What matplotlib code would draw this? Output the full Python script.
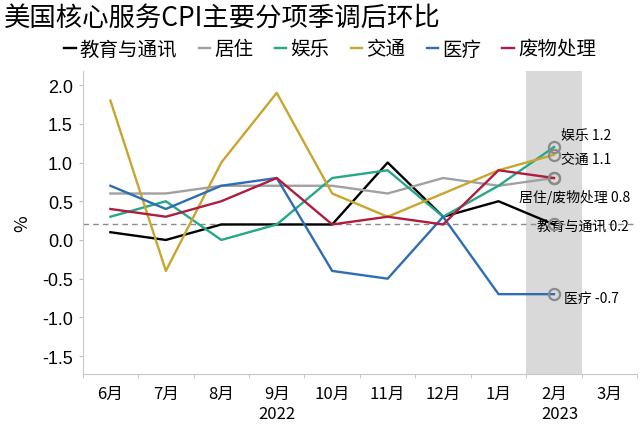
import numpy as np
import matplotlib.pyplot as plt
from matplotlib.transforms import blended_transform_factory

plt.rcParams['font.family'] = ['Noto Sans CJK SC', 'DejaVu Sans']
plt.rcParams['axes.unicode_minus'] = False

months = ['6月', '7月', '8月', '9月', '10月', '11月', '12月', '1月', '2月', '3月']
years = ['2022', '2023']

# 2022-06 .. 2023-02, month-on-month %, seasonally adjusted
edu = [0.1, 0.0, 0.2, 0.2, 0.2, 1.0, 0.3, 0.5, 0.2]
housing = [0.6, 0.6, 0.7, 0.7, 0.7, 0.6, 0.8, 0.7, 0.8]
recreation = [0.3, 0.5, 0.0, 0.2, 0.8, 0.9, 0.3, 0.7, 1.2]
transport = [1.8, -0.4, 1.0, 1.9, 0.6, 0.3, 0.6, 0.9, 1.1]
medical = [0.7, 0.4, 0.7, 0.8, -0.4, -0.5, 0.3, -0.7, -0.7]
waste = [0.4, 0.3, 0.5, 0.8, 0.2, 0.3, 0.2, 0.9, 0.8]

names = ['教育与通讯', '居住', '娱乐', '交通', '医疗', '废物处理']
series = [edu, housing, recreation, transport, medical, waste]
colors = ['#000000', '#a0a0a0', '#25a888', '#c9a52d', '#2e6db4', '#b01c3e']

ref_line = 0.2

fig = plt.figure(figsize=(6.41, 4.27), dpi=100)
ax = fig.add_axes([0.129, 0.122, 0.865, 0.709])

x = np.arange(len(months))

# highlight latest month
ax.axvspan(7.5, 8.5, color='#d9d9d9', zorder=0, lw=0)
ax.axhline(ref_line, color='#8c8c8c', ls=(0, (4, 3)), lw=1, zorder=1)

for vals, name, c in zip(series, names, colors):
    ax.plot(x[:len(vals)], vals, color=c, lw=1.7, label=name, zorder=3)

# markers + labels on last point
last = len(edu) - 1
for vals in series:
    ax.plot(last, vals[-1], 'o', ms=8, mfc='none', mec='#8a8a8a', mew=1.6, zorder=4)

fs = 10
ax.annotate(f'娱乐 {recreation[-1]:.1f}', (last, recreation[-1]), xytext=(5, 9),
            textcoords='offset points', fontsize=fs, va='center', ha='left')
ax.annotate(f'交通 {transport[-1]:.1f}', (last, transport[-1]), xytext=(5, -3),
            textcoords='offset points', fontsize=fs, va='center', ha='left')
ax.annotate(f'居住/废物处理 {housing[-1]:.1f}', (last, housing[-1]), xytext=(55, -13),
            textcoords='offset points', fontsize=fs, va='center', ha='right')
ax.annotate(f'教育与通讯 {edu[-1]:.1f}', (last, edu[-1]), xytext=(54, -1),
            textcoords='offset points', fontsize=fs, va='center', ha='right')
ax.annotate(f'医疗 {medical[-1]:.1f}', (last, medical[-1]), xytext=(7, -3),
            textcoords='offset points', fontsize=fs, va='center', ha='left')

ax.set_xlim(-0.5, len(months) - 0.5)
ax.set_ylim(-1.73, 2.18)
yt = np.arange(-1.5, 2.01, 0.5)
ax.set_yticks(yt)
ax.set_yticklabels([f'{v:.1f}' for v in yt], fontfamily='Liberation Sans', fontsize=13)
ax.set_xticks(x)
ax.set_xticklabels(months, fontsize=12)
ax.set_xticks(np.arange(-0.5, len(months), 1), minor=True)
ax.tick_params(axis='x', which='major', length=0, pad=8)
ax.tick_params(axis='x', which='minor', length=3, color='#bfbfbf')
ax.tick_params(axis='y', length=3, color='#bfbfbf', pad=4)

for s in ['top', 'right']:
    ax.spines[s].set_visible(False)
for s in ['left', 'bottom']:
    ax.spines[s].set_color('#c8c8c8')

tr = blended_transform_factory(ax.transData, ax.transAxes)
ax.text(3.0, -0.103, years[0], transform=tr, ha='center', va='top', fontsize=12)
ax.text(8.1, -0.103, years[1], transform=tr, ha='center', va='top', fontsize=12)

ax.set_ylabel('%', fontsize=13, labelpad=8)

fig.text(0.006, 0.955, '美国核心服务CPI主要分项季调后环比', fontsize=19, va='center', ha='left')
leg = fig.legend(loc='center', bbox_to_anchor=(0.515, 0.883), ncol=6, frameon=False,
                 fontsize=14, handlelength=0.6, handletextpad=0.2, columnspacing=1.1)

fig.savefig('out.png', dpi=100)
